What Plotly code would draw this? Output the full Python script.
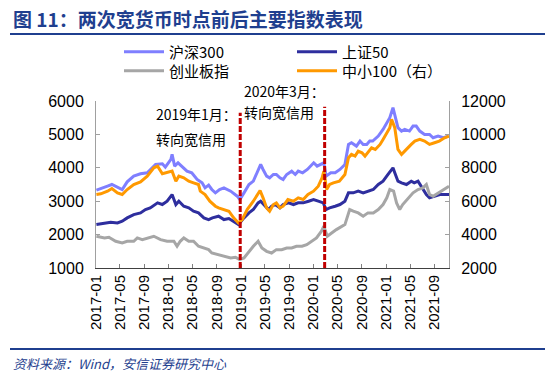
import plotly.graph_objects as go

# ---------------- data ----------------
hs300_dates = ["2017-01-03","2017-01-25","2017-02-28","2017-03-22","2017-04-19","2017-05-13","2017-06-07","2017-07-10","2017-08-13","2017-09-16","2017-10-28","2017-12-01","2017-12-16","2018-01-13","2018-01-19","2018-02-01","2018-02-18","2018-03-10","2018-04-04","2018-04-28","2018-05-25","2018-06-19","2018-07-04","2018-07-22","2018-08-07","2018-08-25","2018-09-15","2018-10-07","2018-11-10","2018-12-13","2018-12-26","2019-01-16","2019-02-10","2019-03-04","2019-03-28","2019-04-10","2019-04-22","2019-05-10","2019-05-25","2019-06-13","2019-06-28","2019-07-16","2019-08-01","2019-08-19","2019-09-13","2019-10-01","2019-10-16","2019-11-07","2019-12-01","2019-12-16","2020-01-02","2020-01-19","2020-02-04","2020-02-22","2020-03-04","2020-03-28","2020-04-19","2020-05-13","2020-06-07","2020-06-25","2020-07-10","2020-08-04","2020-08-22","2020-09-07","2020-09-25","2020-10-10","2020-10-25","2020-11-22","2020-12-16","2021-01-04","2021-01-19","2021-02-04","2021-02-13","2021-03-01","2021-03-19","2021-04-04","2021-04-28","2021-05-16","2021-06-01","2021-06-19","2021-07-13","2021-08-07","2021-08-25","2021-09-19","2021-10-16","2021-11-10"]
hs300 = [3330,3370,3450,3500,3420,3350,3580,3750,3820,3850,4100,4120,4020,4250,4400,4050,4150,4050,3900,3850,3650,3550,3400,3480,3350,3250,3350,3400,3300,3150,3050,3250,3500,3600,3950,4100,3950,3750,3700,3800,3800,3700,3650,3800,3900,3800,3900,3850,3950,4050,4150,4050,4100,4150,3750,3850,3850,3950,4100,4700,4750,4650,4800,4700,4700,4800,4800,4950,5150,5350,5500,5800,5600,5200,5100,5150,5100,5250,5250,5100,5000,5000,4900,4950,4900,4950]

sz50_dates = ["2017-01-03","2017-02-13","2017-03-16","2017-04-19","2017-05-13","2017-06-07","2017-07-10","2017-08-13","2017-09-07","2017-10-01","2017-11-07","2017-12-01","2017-12-25","2018-01-19","2018-02-07","2018-02-22","2018-03-19","2018-04-13","2018-05-07","2018-06-01","2018-06-28","2018-07-22","2018-08-10","2018-09-10","2018-10-07","2018-11-01","2018-11-25","2018-12-19","2019-01-16","2019-02-10","2019-03-04","2019-03-28","2019-04-10","2019-05-01","2019-05-19","2019-06-04","2019-06-22","2019-07-16","2019-08-01","2019-08-28","2019-09-22","2019-10-16","2019-11-10","2019-12-07","2020-01-01","2020-01-25","2020-02-19","2020-03-04","2020-03-22","2020-04-19","2020-05-13","2020-06-07","2020-06-25","2020-07-19","2020-08-13","2020-09-07","2020-10-01","2020-10-28","2020-11-22","2020-12-16","2021-01-10","2021-02-04","2021-02-13","2021-03-01","2021-03-19","2021-04-13","2021-05-07","2021-05-22","2021-06-10","2021-06-25","2021-07-22","2021-08-07","2021-09-01","2021-09-28","2021-10-22","2021-11-13"]
sz50 = [2300,2350,2370,2350,2400,2500,2600,2650,2750,2800,2950,2900,3000,3200,2900,3000,2850,2800,2700,2650,2500,2450,2500,2550,2450,2480,2400,2300,2500,2650,2750,2950,3000,2850,2750,2850,2900,2800,2900,2950,2900,2950,2950,3000,3050,3000,2950,2750,2800,2850,2900,3000,3250,3250,3300,3250,3300,3350,3500,3600,3800,4000,3850,3600,3550,3500,3600,3550,3600,3450,3200,3100,3150,3200,3200,3200]

cyb_dates = ["2017-01-03","2017-02-13","2017-03-07","2017-04-10","2017-05-13","2017-06-07","2017-07-10","2017-07-28","2017-08-22","2017-09-25","2017-10-19","2017-11-22","2017-12-25","2018-01-28","2018-02-13","2018-03-01","2018-03-19","2018-04-13","2018-05-07","2018-06-01","2018-06-28","2018-07-22","2018-08-07","2018-09-04","2018-10-07","2018-11-10","2018-12-04","2018-12-25","2019-01-16","2019-02-10","2019-03-04","2019-03-28","2019-04-16","2019-05-10","2019-06-04","2019-06-28","2019-07-25","2019-08-19","2019-09-13","2019-10-07","2019-11-04","2019-11-28","2019-12-22","2020-01-16","2020-02-10","2020-02-22","2020-03-10","2020-04-01","2020-04-25","2020-06-07","2020-07-01","2020-07-19","2020-08-13","2020-09-07","2020-10-01","2020-10-28","2020-11-22","2020-12-16","2021-01-04","2021-01-19","2021-02-07","2021-02-22","2021-03-10","2021-03-25","2021-04-22","2021-05-16","2021-06-10","2021-07-04","2021-07-22","2021-08-07","2021-08-25","2021-09-19","2021-10-16","2021-11-13"]
cyb = [1950,1900,1920,1800,1750,1800,1800,1900,1850,1900,1950,1850,1800,1800,1650,1800,1900,1800,1800,1650,1600,1550,1450,1400,1350,1300,1320,1250,1300,1500,1650,1800,1600,1500,1450,1550,1550,1600,1600,1650,1650,1700,1800,1900,2100,2250,1950,2050,2150,2300,2750,2700,2650,2550,2650,2650,2750,2900,3100,3350,3300,2950,2750,2900,3100,3250,3350,3400,3500,3200,3150,3250,3350,3450]

zx100_dates = ["2017-01-03","2017-01-25","2017-02-28","2017-03-22","2017-04-19","2017-05-13","2017-06-07","2017-07-10","2017-08-13","2017-09-16","2017-10-19","2017-11-07","2017-12-01","2017-12-25","2018-01-19","2018-02-07","2018-02-22","2018-03-19","2018-04-13","2018-05-07","2018-06-01","2018-06-10","2018-07-04","2018-07-28","2018-08-25","2018-09-10","2018-10-07","2018-11-01","2018-11-25","2018-12-19","2019-01-07","2019-02-01","2019-03-04","2019-03-28","2019-04-07","2019-04-22","2019-05-10","2019-05-25","2019-06-13","2019-06-28","2019-07-16","2019-08-01","2019-08-25","2019-09-22","2019-10-16","2019-11-10","2019-12-04","2020-01-01","2020-01-25","2020-02-13","2020-02-22","2020-03-07","2020-03-22","2020-04-10","2020-05-10","2020-06-07","2020-06-25","2020-07-10","2020-07-28","2020-08-13","2020-09-01","2020-09-16","2020-10-04","2020-10-19","2020-11-07","2020-12-01","2020-12-16","2021-01-04","2021-01-19","2021-01-28","2021-02-13","2021-03-01","2021-03-19","2021-04-04","2021-04-19","2021-05-07","2021-05-25","2021-06-19","2021-07-13","2021-08-07","2021-09-01","2021-09-25","2021-10-22","2021-11-13"]
zx100 = [6400,6440,6600,6760,6500,6400,6700,7000,7160,7500,8000,8100,7640,7700,7800,7200,7500,7400,7200,7100,7000,6600,6400,6000,5700,5600,5500,5400,5000,4700,4900,5500,6000,6500,6640,6200,5600,5400,5800,5900,5600,5700,6100,6000,6200,6100,6400,6600,6900,7400,7800,6700,7000,7100,7200,7600,8600,8800,8700,9000,8900,8700,9000,9200,9100,9400,9700,10100,10400,10900,10400,9100,8800,9000,9200,9400,9600,9700,9600,9400,9500,9600,9800,9900]

names = ["沪深300", "上证50", "创业板指", "中小100（右）"]
colors = ["#7F7FFF", "#2E2E9E", "#A6A6A6", "#FF9900"]

tick_vals = ["2017-01-01","2017-05-01","2017-09-01","2018-01-01","2018-05-01","2018-09-01","2019-01-01","2019-05-01","2019-09-01","2020-01-01","2020-05-01","2020-09-01","2021-01-01","2021-05-01","2021-09-01"]
tick_text = [d[:7] for d in tick_vals]

policy_dates = ["2018-12-28", "2020-02-26"]
policy_tops = [5650, 5830]

# ---------------- figure ----------------
fig = go.Figure()
fig.add_trace(go.Scatter(x=hs300_dates, y=hs300, name=names[0], mode="lines",
                         line=dict(color=colors[0], width=3), legend="legend"))
fig.add_trace(go.Scatter(x=sz50_dates, y=sz50, name=names[1], mode="lines",
                         line=dict(color=colors[1], width=3), legend="legend"))
fig.add_trace(go.Scatter(x=cyb_dates, y=cyb, name=names[2], mode="lines",
                         line=dict(color=colors[2], width=3), legend="legend2"))
fig.add_trace(go.Scatter(x=zx100_dates, y=zx100, name=names[3], mode="lines",
                         line=dict(color=colors[3], width=3), legend="legend2", yaxis="y2"))

W, H = 550, 378
L, R, T, B = 96, 101, 101, 110
pw, ph = W - L - R, H - T - B

def px(xp):
    return (xp - L) / pw

def py(yp):
    return (H - B - yp) / ph

for d, top in zip(policy_dates, policy_tops):
    fig.add_shape(type="line", xref="x", yref="y", x0=d, x1=d, y0=1000, y1=top,
                  line=dict(color="#C00000", width=3, dash="6px,2px"), layer="above")

# title + rules
fig.add_shape(type="line", xref="paper", yref="paper", x0=px(10), x1=px(545), y0=py(34), y1=py(34),
              line=dict(color="#1F3F8F", width=2))
fig.add_shape(type="line", xref="paper", yref="paper", x0=px(10), x1=px(545), y0=py(349), y1=py(349),
              line=dict(color="#1F3F8F", width=2))

cjk = "Noto Sans CJK SC, Arial"
fig.add_annotation(text="<b>图 11：两次宽货币时点前后主要指数表现</b>", xref="paper", yref="paper",
                   x=px(11), y=py(18), xanchor="left", yanchor="middle", showarrow=False,
                   font=dict(family=cjk, size=19, color="#1F3F8F"))
fig.add_annotation(text="<i>资料来源：Wind，安信证券研究中心</i>", xref="paper", yref="paper",
                   x=px(11), y=py(363), xanchor="left", yanchor="middle", showarrow=False,
                   font=dict(family=cjk, size=13, color="#1F3F8F"))

notes = [("2019年1月：", 154, 114), ("转向宽信用", 154, 139),
         ("2020年3月：", 242, 91), ("转向宽信用", 242, 112)]
for t, xx, yy in notes:
    fig.add_annotation(text=t, xref="paper", yref="paper", x=px(xx), y=py(yy),
                       xanchor="left", yanchor="middle", showarrow=False,
                       font=dict(family=cjk, size=14, color="#000000"))

axis_font = dict(family="Arial, Liberation Sans", size=16, color="#000000")

fig.update_layout(
    width=W, height=H,
    margin=dict(l=L, r=R, t=T, b=B),
    paper_bgcolor="white", plot_bgcolor="white",
    showlegend=True,
    legend=dict(orientation="h", x=px(119), y=py(52), xanchor="left", yanchor="middle",
                entrywidth=118, entrywidthmode="pixels", itemwidth=40,
                font=dict(family=cjk, size=15, color="#000000"), bgcolor="rgba(0,0,0,0)"),
    legend2=dict(orientation="h", x=px(119), y=py(71), xanchor="left", yanchor="middle",
                 entrywidth=118, entrywidthmode="pixels", itemwidth=40,
                 font=dict(family=cjk, size=15, color="#000000"), bgcolor="rgba(0,0,0,0)"),
    xaxis=dict(type="date", range=["2017-01-01", "2021-11-13"], tickvals=tick_vals, ticktext=tick_text,
               tickangle=-90, ticks="inside", ticklen=4, tickcolor="#808080",
               showline=True, linecolor="#404040", linewidth=1, showgrid=False, zeroline=False,
               tickfont=dict(family="Arial, Liberation Sans", size=15, color="#000000")),
    yaxis=dict(range=[1000, 6000], dtick=1000, ticks="inside", ticklen=4, tickcolor="#A0A0A0",
               showline=True, linecolor="#A0A0A0", linewidth=1, showgrid=False, zeroline=False,
               tickfont=axis_font, ticklabelstandoff=8, tickformat="d"),
    yaxis2=dict(range=[2000, 12000], dtick=2000, overlaying="y", side="right", ticks="inside",
                ticklen=4, tickcolor="#A0A0A0", showline=True, linecolor="#A0A0A0", linewidth=1,
                showgrid=False, zeroline=False, tickfont=axis_font, ticklabelstandoff=8,
                tickformat="d"),
)

fig.write_html("out.html", config={"displayModeBar": False},
               post_script="document.body.style.margin='0';")
